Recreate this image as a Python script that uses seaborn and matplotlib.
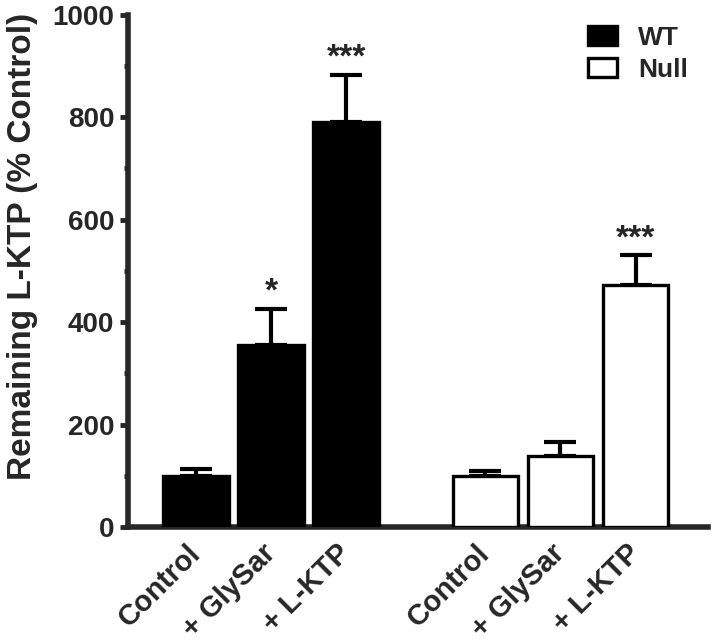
import pandas as pd
import numpy as np
import matplotlib
matplotlib.use("Agg")
import matplotlib.pyplot as plt
import seaborn as sns

# values
labels = ["Control", "+ GlySar", "+ L-KTP", "Control", "+ GlySar", "+ L-KTP"]
genotype = ["WT", "WT", "WT", "Null", "Null", "Null"]
positions = [0, 1, 2, 3.85, 4.85, 5.85]
means = [100, 355, 790, 100, 139, 473]
sem = [13, 71, 93, 9, 28, 58]
stars = ["", "*", "***", "", "", "***"]

df = pd.DataFrame({"pos": positions, "value": means, "group": genotype})

sns.set_style("ticks")
plt.rcParams["font.family"] = ["Liberation Sans", "DejaVu Sans"]
plt.rcParams["font.weight"] = "bold"

fig = plt.figure(figsize=(7.12, 6.42), dpi=100)
ax = fig.add_axes([0.18, 0.179, 0.814, 0.798])

sns.barplot(data=df, x="pos", y="value", hue="group", native_scale=True,
            dodge=False, palette={"WT": "black", "Null": "white"},
            edgecolor="black", linewidth=2.4, width=0.87, errorbar=None,
            ax=ax, zorder=3)

# upper error bars only
ax.errorbar(positions, means, yerr=[np.zeros(len(sem)), sem], fmt="none",
            ecolor="black", elinewidth=3, capsize=11.5, capthick=3, zorder=2)

for x, m, s, st in zip(positions, means, sem, stars):
    if st:
        ax.text(x, m + s + 32, st, ha="center", va="center", fontsize=24,
                fontweight="bold")

ax.set_xlim(-0.9, 6.81)
ax.set_ylim(0, 1000)
ax.set_yticks(np.arange(0, 1001, 200))
ax.set_yticks(np.arange(100, 1000, 200), minor=True)
ax.set_xticks(positions)
ax.set_xticklabels(labels, rotation=45, ha="right", va="center",
                   rotation_mode="anchor", fontsize=21, fontweight="bold")
ax.tick_params(axis="x", length=0, pad=16)
ax.tick_params(axis="y", which="major", length=6, width=3.5, labelsize=20,
               pad=4)
ax.tick_params(axis="y", which="minor", length=3, width=3.5)
for t in ax.get_yticklabels():
    t.set_fontweight("bold")
ax.set_xlabel("")
ax.set_ylabel("Remaining L-KTP (% Control)", fontsize=24, fontweight="bold")
ax.yaxis.set_label_coords(-0.155, 0.547)
sns.despine(ax=ax)
for side in ["left", "bottom"]:
    ax.spines[side].set_linewidth(4)

sns.move_legend(ax, "upper right", bbox_to_anchor=(1.007, 1.025), frameon=False,
                title=None, fontsize=19, handlelength=1.1, handleheight=0.75,
                labelspacing=0.3)
for t in ax.get_legend().get_texts():
    t.set_fontweight("bold")

fig.savefig("out.png", dpi=100)
